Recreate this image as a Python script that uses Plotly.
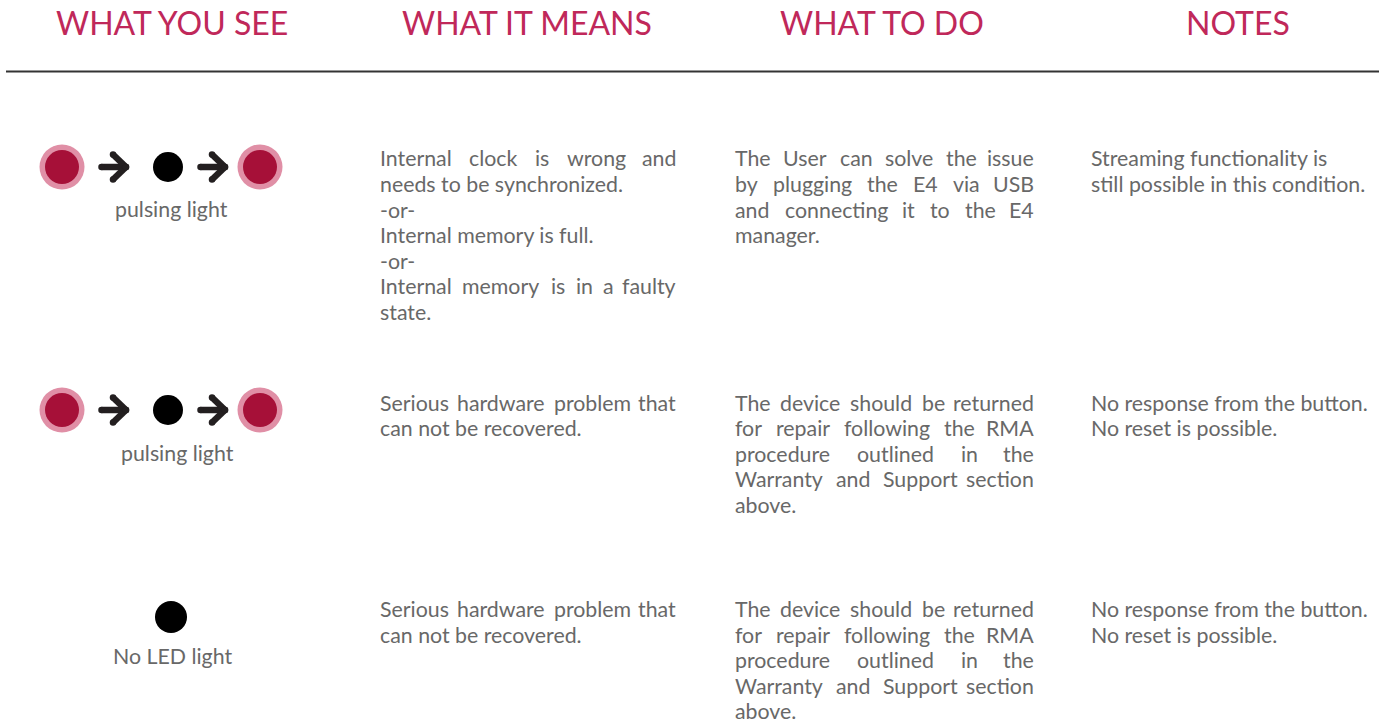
import plotly.graph_objects as go

W, H = 1386, 723

# ---------------- data ----------------
headers = ["WHAT YOU SEE", "WHAT IT MEANS", "WHAT TO DO", "NOTES"]
header_x = [172, 527, 882, 1238]

icon_labels = ["pulsing light", "pulsing light", "No LED light"]
icon_patterns = [
    ["red", "arrow", "black", "arrow", "red"],
    ["red", "arrow", "black", "arrow", "red"],
    ["black"],
]

meanings = [
    [["Internal clock is wrong and", "needs to be synchronized."], ["-or-"],
     ["Internal memory is full."], ["-or-"],
     ["Internal memory is in a faulty", "state."]],
    [["Serious hardware problem that", "can not be recovered."]],
    [["Serious hardware problem that", "can not be recovered."]],
]
actions = [
    [["The User can solve the issue", "by plugging the E4 via USB",
      "and connecting it to the E4", "manager."]],
    [["The device should be returned", "for repair following the RMA",
      "procedure outlined in the", "Warranty and Support section", "above."]],
    [["The device should be returned", "for repair following the RMA",
      "procedure outlined in the", "Warranty and Support section", "above."]],
]
notes = [
    [["Streaming functionality is"], ["still possible in this condition."]],
    [["No response from the button."], ["No reset is possible."]],
    [["No response from the button."], ["No reset is possible."]],
]

# ---------------- layout / style ----------------
HEAD_COLOR = "#C0285A"
TEXT_COLOR = "#686868"
RED_IN = "#A61038"
RED_OUT = "#E08FA6"
ARROW_COLOR = "#231F20"
FONT = "Lato"
BODY = 21.33
HEAD = 32
LINE_H = 25.6

row_text_y = [158.3, 402.5, 609]
icon_y = [167, 410, 617]
icon_x_full = [62, 113, 168, 212, 260]
icon_x_single = [171]
label_y = [209, 453, 656]
label_x = [171, 177, 172]

cols = [(378.5, 677), (733.5, 1035), (1089.5, 1370)]

LATO = {
    'a': .49, 'b': .55, 'c': .45, 'd': .55, 'e': .51, 'f': .32, 'g': .49, 'h': .55,
    'i': .23, 'j': .23, 'k': .49, 'l': .23, 'm': .82, 'n': .55, 'o': .55, 'p': .55,
    'q': .55, 'r': .36, 's': .42, 't': .35, 'u': .55, 'v': .5, 'w': .76, 'x': .48,
    'y': .5, 'z': .44,
    'A': .66, 'B': .63, 'C': .68, 'D': .74, 'E': .55, 'F': .53, 'G': .73, 'H': .75,
    'I': .27, 'J': .38, 'K': .65, 'L': .48, 'M': .9, 'N': .75, 'O': .8, 'P': .6,
    'Q': .8, 'R': .62, 'S': .52, 'T': .58, 'U': .72, 'V': .66, 'W': 1.0, 'X': .64,
    'Y': .62, 'Z': .6, ' ': .26, '.': .22, ',': .22, '-': .34, '4': .58,
}
SCALE = 1.02


def text_w(s, size=BODY):
    return sum(LATO.get(c, .55) for c in s) * size * SCALE


fig = go.Figure()
annotations = []


def add_text(x, y, txt, anchor="left", size=BODY, color=TEXT_COLOR):
    annotations.append(dict(
        x=x, y=y, xref="x", yref="y", text=txt, showarrow=False,
        xanchor=anchor, yanchor="middle", borderpad=0,
        font=dict(family=FONT, size=size, color=color)))


def add_block(paragraphs, x0, x1, y0, justify=True):
    y = y0
    for para in paragraphs:
        for li, line in enumerate(para):
            words = line.split(" ")
            if justify and li < len(para) - 1 and len(words) > 1:
                ws = [text_w(w) for w in words]
                gap = (x1 - x0 - sum(ws)) / (len(words) - 1)
                x = x0
                for wi, w in enumerate(words):
                    if wi == len(words) - 1:
                        add_text(x1, y, w, anchor="right")
                    else:
                        add_text(x, y, w, anchor="left")
                    x += ws[wi] + gap
            else:
                add_text(x0, y, line, anchor="left")
            y += LINE_H


# headers
for hx, ht in zip(header_x, headers):
    add_text(hx, 22.6, ht, anchor="center", size=HEAD, color=HEAD_COLOR)

# separator line
fig.add_trace(go.Scatter(x=[6, 1379], y=[71.5, 71.5], mode="lines",
                         line=dict(color="#333333", width=2), hoverinfo="skip"))

# icons
for r, pattern in enumerate(icon_patterns):
    xs = icon_x_full if len(pattern) > 1 else icon_x_single
    cy = icon_y[r]
    for kind, cx in zip(pattern, xs):
        if kind == "red":
            fig.add_trace(go.Scatter(x=[cx], y=[cy], mode="markers",
                                     marker=dict(size=45, color=RED_OUT, line=dict(width=0)),
                                     hoverinfo="skip"))
            fig.add_trace(go.Scatter(x=[cx], y=[cy], mode="markers",
                                     marker=dict(size=34, color=RED_IN, line=dict(width=0)),
                                     hoverinfo="skip"))
        elif kind == "black":
            d = 30 if len(pattern) > 1 else 32
            fig.add_trace(go.Scatter(x=[cx], y=[cy], mode="markers",
                                     marker=dict(size=d, color="#000000", line=dict(width=0)),
                                     hoverinfo="skip"))
        else:
            ax = [cx - 11.5, cx + 12, None, cx, cx + 13, None, cx, cx + 13]
            ay = [cy, cy, None, cy - 12.5, cy, None, cy + 12.5, cy]
            fig.add_trace(go.Scatter(x=ax, y=ay, mode="lines+markers",
                                     line=dict(color=ARROW_COLOR, width=6.5),
                                     marker=dict(size=6.5, color=ARROW_COLOR, line=dict(width=0)),
                                     hoverinfo="skip"))
    add_text(label_x[r], label_y[r], icon_labels[r], anchor="center")

# text columns
for r in range(3):
    add_block(meanings[r], cols[0][0], cols[0][1], row_text_y[r], justify=True)
    add_block(actions[r], cols[1][0], cols[1][1], row_text_y[r], justify=True)
    add_block(notes[r], cols[2][0], cols[2][1], row_text_y[r], justify=False)

fig.update_layout(
    width=W, height=H, margin=dict(l=0, r=0, t=0, b=0),
    paper_bgcolor="white", plot_bgcolor="white", showlegend=False,
    xaxis=dict(range=[0, W], visible=False, fixedrange=True),
    yaxis=dict(range=[H, 0], visible=False, fixedrange=True),
    annotations=annotations,
)

fig.write_html("out.html", config={"displayModeBar": False},
               post_script="document.body.style.margin='0px';")
